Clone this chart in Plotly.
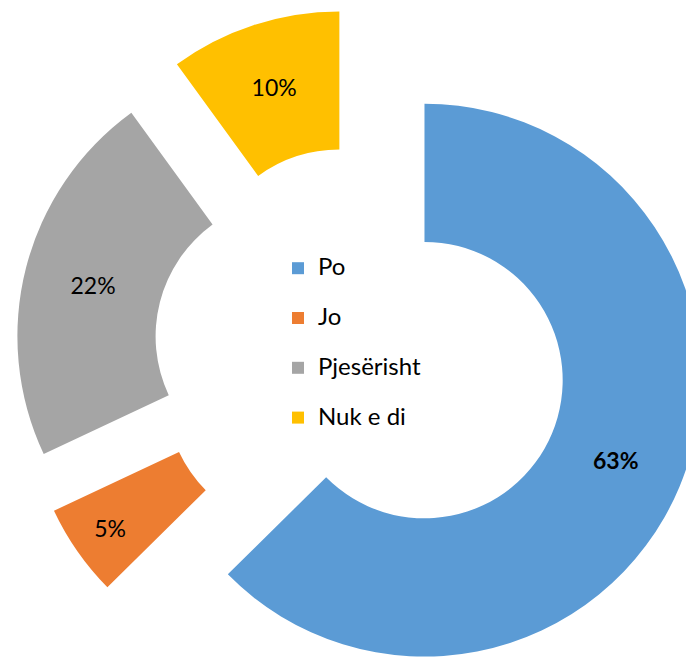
import plotly.graph_objects as go

# ---- data ----
labels = ["Po", "Jo", "Pjesërisht", "Nuk e di"]
values = [62.6, 5.4, 22.0, 10.0]
colors = ["#5B9BD5", "#ED7D31", "#A5A5A5", "#FFC000"]

# legend entries: label text at 24px, two-line trick for taller legend rows
legend_names = [f"<span style='font-size:24px'>{l}</span><br>" for l in labels]
text_templates = ["<b>%{percent:.0%}</b>", "%{percent:.0%}", "%{percent:.0%}", "%{percent:.0%}"]

W, H = 700, 691

fig = go.Figure(
    go.Pie(
        labels=legend_names,
        values=values,
        sort=False,
        direction="clockwise",
        rotation=0,
        hole=0.5,
        pull=0.25,
        marker=dict(colors=colors, line=dict(width=0)),
        texttemplate=text_templates,
        textposition="inside",
        insidetextorientation="horizontal",
        textfont=dict(family="Lato", size=23, color="#000000"),
        hoverinfo="skip",
        domain=dict(x=[6.45 / W, 699.0 / W], y=[0, 1]),
    )
)

fig.update_layout(
    width=W,
    height=H,
    margin=dict(l=0, r=0, t=0, b=0),
    paper_bgcolor="white",
    plot_bgcolor="white",
    font=dict(family="Lato", color="#000000"),
    showlegend=True,
    legend=dict(
        x=270 / W,
        xanchor="left",
        y=1 - 242 / H,
        yanchor="top",
        font=dict(family="Lato", size=18, color="#000000"),
        valign="top",
        bgcolor="rgba(0,0,0,0)",
        borderwidth=0,
    ),
)

fig.write_html("out.html", post_script="document.body.style.overflow='hidden';")
